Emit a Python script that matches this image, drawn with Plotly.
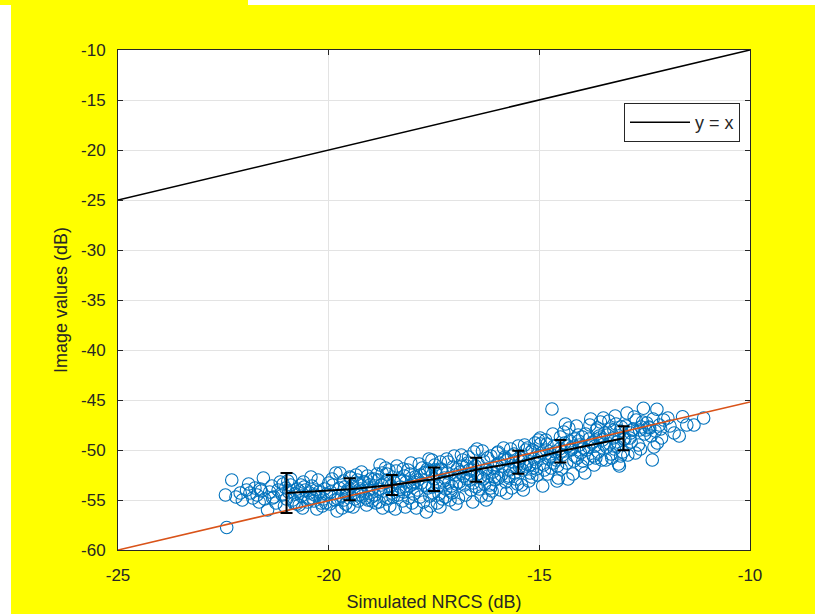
import plotly.graph_objects as go

# ---------------- data ----------------
scatter_x = [
    -22.45, -22.3, -22.2, -22.42, -22.1, -22.05,
    -21.95, -21.87, -21.8, -21.75, -21.7, -21.65, -21.6, -21.55, -21.52,
    -21.45, -21.4, -21.35, -21.3, -21.25, -21.2, -21.15, -21.1, -21.05, -21.02, -21.0,
    -20.95, -20.9, -20.85, -20.8, -20.75, -20.7, -20.65, -20.6, -20.55, -20.5, -20.9, -20.7, -20.62,
    -20.45, -20.4, -20.35, -20.3, -20.25, -20.2, -20.15, -20.1, -20.05, -20.0, -20.42, -20.28, -20.12, -20.38,
    -19.95, -19.9, -19.85, -19.8, -19.75, -19.7, -19.65, -19.6, -19.55, -19.5, -19.92, -19.78, -19.62, -19.52, -19.58, -19.68,
    -19.45, -19.4, -19.35, -19.3, -19.25, -19.2, -19.15, -19.1, -19.05, -19.0, -19.42, -19.32, -19.22, -19.12, -19.02, -19.28, -19.08, -19.38,
    -18.95, -18.9, -18.85, -18.8, -18.75, -18.7, -18.65, -18.6, -18.55, -18.5, -18.92, -18.82, -18.72, -18.62, -18.52, -18.58, -18.68, -18.78, -18.88, -18.98,
    -18.45, -18.4, -18.35, -18.3, -18.25, -18.2, -18.15, -18.1, -18.05, -18.0, -18.42, -18.32, -18.22, -18.12, -18.02, -18.48, -18.38, -18.28, -18.18, -18.08,
    -17.95, -17.9, -17.85, -17.8, -17.75, -17.7, -17.65, -17.6, -17.55, -17.5, -17.92, -17.82, -17.72, -17.62, -17.52, -17.58, -17.68, -17.78, -17.88, -17.98, -17.54,
    -17.45, -17.4, -17.35, -17.3, -17.25, -17.2, -17.15, -17.1, -17.05, -17.0, -17.42, -17.32, -17.22, -17.12, -17.02, -17.48, -17.38, -17.28, -17.18, -17.08, -17.36,
    -16.95, -16.9, -16.85, -16.8, -16.75, -16.7, -16.65, -16.6, -16.55, -16.5, -16.92, -16.82, -16.72, -16.62, -16.52, -16.58, -16.68, -16.78, -16.88, -16.98, -16.64,
    -16.45, -16.4, -16.35, -16.3, -16.25, -16.2, -16.15, -16.1, -16.05, -16.0, -16.42, -16.32, -16.22, -16.12, -16.02, -16.48, -16.38, -16.28, -16.18, -16.08, -16.26,
    -15.95, -15.9, -15.85, -15.8, -15.75, -15.7, -15.65, -15.6, -15.55, -15.5, -15.92, -15.82, -15.72, -15.62, -15.52, -15.58, -15.68, -15.78, -15.88, -15.98,
    -15.45, -15.4, -15.35, -15.3, -15.25, -15.2, -15.15, -15.1, -15.05, -15.0, -15.42, -15.32, -15.22, -15.12, -15.02, -15.48, -15.38, -15.28, -15.18, -15.08,
    -14.95, -14.9, -14.85, -14.8, -14.75, -14.7, -14.65, -14.6, -14.55, -14.5, -14.92, -14.82, -14.72, -14.62, -14.52, -14.58, -14.68, -14.78, -14.88, -14.98,
    -14.45, -14.4, -14.35, -14.3, -14.25, -14.2, -14.15, -14.1, -14.05, -14.0, -14.42, -14.32, -14.22, -14.12, -14.02, -14.48, -14.38, -14.28, -14.18, -14.08,
    -13.95, -13.9, -13.85, -13.8, -13.75, -13.7, -13.65, -13.6, -13.55, -13.5, -13.92, -13.82, -13.72, -13.62, -13.52, -13.58, -13.68, -13.78, -13.88, -13.98,
    -13.45, -13.4, -13.35, -13.3, -13.25, -13.2, -13.15, -13.1, -13.05, -13.0, -13.42, -13.32, -13.22, -13.12, -13.02, -13.48, -13.38, -13.28, -13.18, -13.08,
    -12.95, -12.85, -12.75, -12.65, -12.55, -12.9, -12.8, -12.7, -12.6, -12.5, -12.92, -12.72, -12.58, -12.82,
    -12.45, -12.32, -12.35, -12.3, -12.25, -12.2, -12.15, -12.1, -12.05, -12.53, -12.21, -12.28,
    -11.9, -11.6, -11.5, -11.33, -11.1, -11.8,
    # extra points filling the dense centre of the cloud
    -21.9, -21.62, -21.33, -21.08, -20.82, -20.58, -20.33, -20.07, -19.83, -19.57,
    -19.33, -19.07, -18.83, -18.57, -18.33, -18.07, -17.83, -17.57, -17.33, -17.07,
    -16.83, -16.57, -16.33, -16.07, -15.83, -15.57, -15.33, -15.07, -14.83, -14.57,
    -14.33, -14.07, -13.83, -13.57, -13.33, -13.07, -12.83, -12.62, -12.4, -12.12,
    -20.97, -20.47, -19.97, -19.47, -18.97, -18.47, -17.97, -17.47, -16.97, -16.47,
    -15.97, -15.47, -14.97, -14.47, -13.97, -13.47, -12.97, -12.47, -11.95, -11.68,
    -20.76, -20.23, -19.73, -19.23, -18.73, -18.23, -17.73, -17.23, -16.73, -16.23,
    -15.73, -15.23, -14.73, -14.23, -13.73, -13.23, -12.77, -12.38,
    -20.66, -20.18, -19.64, -19.18, -18.64, -18.16, -17.66, -17.16, -16.66, -16.16,
    -15.66, -15.16, -14.66, -14.16, -13.66, -13.16,
]
scatter_y = [
    -54.5, -53.0, -54.7, -57.75, -54.3, -55.0,
    -54.0, -54.3, -54.8, -53.8, -54.5, -55.2, -54.1, -52.8, -54.9,
    -56.0, -54.2, -53.6, -54.7, -55.3, -54.0, -53.2, -54.5, -55.6, -53.8, -54.9,
    -54.2, -53.5, -55.0, -54.4, -53.9, -55.5, -54.6, -53.2, -54.0, -55.2, -52.9, -54.1, -55.8,
    -54.3, -53.6, -55.1, -54.0, -53.0, -54.7, -55.6, -53.9, -54.4, -53.3, -52.7, -55.9, -54.9, -54.8,
    -54.2, -53.5, -55.0, -56.1, -53.8, -54.6, -53.1, -55.4, -54.0, -52.7, -52.9, -54.9, -53.7, -55.6, -54.4, -55.8,
    -53.6, -54.3, -52.5, -55.1, -53.9, -54.6, -53.2, -55.5, -54.0, -52.9, -55.7, -53.0, -52.2, -54.8, -53.5, -54.5, -52.6, -54.9,
    -53.8, -54.5, -52.4, -55.2, -53.5, -54.1, -51.8, -53.0, -55.6, -54.3, -52.9, -53.9, -55.8, -52.4, -53.6, -54.8, -53.3, -51.5, -55.3, -54.7,
    -53.2, -52.1, -54.5, -53.7, -55.1, -52.6, -53.9, -54.8, -51.3, -53.4, -55.9, -52.9, -54.2, -52.0, -55.3, -54.0, -51.6, -53.1, -55.7, -53.6,
    -52.7, -54.0, -51.4, -53.3, -55.2, -52.2, -53.8, -54.6, -51.0, -52.9, -55.8, -52.5, -53.5, -50.9, -54.3, -55.6, -56.2, -51.8, -53.0, -54.4, -53.7,
    -52.4, -53.6, -51.2, -54.9, -52.8, -50.9, -53.3, -54.1, -51.7, -52.5, -55.3, -52.0, -53.9, -55.0, -50.6, -51.5, -54.4, -53.1, -52.3, -53.6, -55.7,
    -51.9, -53.2, -50.5, -52.6, -54.5, -51.3, -53.0, -52.0, -50.2, -53.7, -54.8, -51.0, -52.9, -54.0, -51.6, -55.2, -50.7, -53.5, -52.2, -55.4, -52.4,
    -51.4, -52.7, -50.1, -53.4, -51.9, -54.5, -50.6, -52.2, -53.0, -50.3, -53.9, -51.1, -52.6, -54.1, -51.5, -49.9, -54.6, -52.0, -53.5, -51.8, -55.0,
    -51.3, -52.5, -49.8, -53.2, -51.0, -52.0, -53.8, -50.4, -51.7, -49.6, -54.0, -50.7, -52.8, -51.2, -53.4, -52.3, -49.9, -54.3, -51.6, -50.2,
    -50.8, -52.0, -49.5, -51.4, -53.1, -50.2, -51.8, -49.3, -52.5, -50.6, -53.5, -50.0, -52.3, -50.9, -49.0, -51.1, -54.0, -49.8, -52.7, -51.2,
    -50.3, -51.5, -49.0, -52.4, -50.7, -45.9, -49.6, -51.0, -52.8, -48.7, -53.6, -49.4, -51.8, -50.2, -49.9, -53.1, -48.4, -50.9, -52.0, -48.8,
    -50.5, -49.3, -51.3, -47.8, -50.0, -52.4, -48.9, -50.8, -49.5, -51.6, -48.2, -52.9, -49.7, -47.6, -50.3, -51.9, -47.4, -49.1, -51.1, -48.5,
    -49.8, -48.4, -50.9, -47.5, -49.3, -51.5, -48.0, -50.2, -47.2, -49.0, -52.3, -48.9, -50.6, -47.8, -51.0, -48.6, -49.6, -46.9, -50.0, -48.7,
    -48.3, -49.7, -47.1, -50.4, -48.8, -46.6, -49.2, -51.6, -47.7, -48.9, -51.0, -47.9, -49.9, -51.4, -50.2, -46.8, -48.5, -50.8, -47.4, -48.1,
    -47.6, -48.8, -46.7, -49.5, -47.2, -50.5, -48.0, -47.0, -49.9, -48.4, -46.3, -50.3, -47.7, -49.2,
    -47.3, -51.0, -48.6, -46.9, -48.1, -49.3, -47.5, -48.8, -47.0, -45.83, -45.93, -49.7,
    -47.6, -46.67, -47.5, -47.5, -46.8, -48.3,
    # extra points
    -53.4, -53.9, -54.8, -53.4, -55.3, -53.7, -54.5, -55.3, -52.3, -54.2,
    -53.3, -55.0, -53.0, -52.0, -54.0, -52.4, -54.7, -52.1, -51.9, -54.3,
    -51.6, -53.3, -52.9, -52.7, -50.9, -52.9, -51.6, -51.9, -50.0, -51.6,
    -49.6, -49.1, -49.7, -48.8, -49.4, -50.6, -48.3, -48.0, -47.7, -47.9,
    -53.1, -54.9, -55.4, -52.8, -55.1, -54.7, -53.2, -52.0, -53.4, -52.4,
    -52.8, -51.7, -49.4, -50.1, -51.1, -49.4, -48.9, -48.0, -46.8, -48.6,
    -55.4, -54.2, -52.3, -54.1, -52.3, -51.9, -52.3, -54.7, -51.6, -50.8,
    -52.6, -51.5, -50.4, -49.9, -49.2, -48.0, -47.9, -47.8,
    -53.5, -55.3, -55.0, -53.2, -54.9, -53.2, -51.9, -51.2, -52.0, -53.8,
    -50.6, -50.0, -51.3, -50.6, -50.8, -49.6,
]

bin_x = [-21.0, -19.5, -18.5, -17.5, -16.5, -15.5, -14.5, -13.0]
bin_mean = [-54.3, -53.93, -53.5, -52.93, -51.97, -51.22, -50.12, -48.83]
bin_std = [2.0, 1.1, 1.0, 1.17, 1.2, 1.15, 1.12, 1.2]

fit_x = [-25, -10]
fit_y = [-60.0, -45.2]
ident_x = [-25, -10]
ident_y = [-25, -10]

x_ticks = [-25, -20, -15, -10]
y_ticks = [-60, -55, -50, -45, -40, -35, -30, -25, -20, -15, -10]

# ---------------- figure ----------------
BLUE = "#0072BD"
ORANGE = "#D95319"
TXT = "#262626"
FONT = "Liberation Sans, Arial"

fig = go.Figure()

fig.add_trace(go.Scatter(
    x=scatter_x, y=scatter_y, mode="markers", showlegend=False,
    marker=dict(symbol="circle-open", size=12.5, color=BLUE, line=dict(width=1.1, color=BLUE)),
))
fig.add_trace(go.Scatter(
    x=fit_x, y=fit_y, mode="lines", showlegend=False,
    line=dict(color=ORANGE, width=1.6),
))
fig.add_trace(go.Scatter(
    x=bin_x, y=bin_mean, mode="lines", showlegend=False,
    line=dict(color="black", width=2),
    error_y=dict(type="data", array=bin_std, color="black", thickness=2, width=6),
))
fig.add_trace(go.Scatter(
    x=ident_x, y=ident_y, mode="lines", name="y = x",
    line=dict(color="black", width=1.6),
))

axis_common = dict(
    showgrid=True, gridcolor="#e3e3e3", gridwidth=1,
    showline=True, linecolor=TXT, linewidth=1, mirror="ticks",
    ticks="inside", ticklen=5, tickcolor=TXT, tickwidth=1,
    zeroline=False, automargin=False,
    tickfont=dict(family=FONT, size=17, color=TXT),
)

fig.update_xaxes(
    range=[-25, -10], tickvals=x_ticks, ticktext=[str(v) for v in x_ticks],
    ticklabelstandoff=10,
    title=dict(text="Simulated NRCS (dB)", font=dict(family=FONT, size=18, color=TXT), standoff=10),
    **axis_common,
)
fig.update_yaxes(
    range=[-60, -10], tickvals=y_ticks, ticktext=[str(v) for v in y_ticks],
    ticklabelstandoff=8,
    title=dict(text="Image values (dB)", font=dict(family=FONT, size=18, color=TXT), standoff=8),
    **axis_common,
)

W, H = 815, 614
L, R, T, B = 118, 65, 50, 64
pw, ph = W - L - R, H - T - B

def px_x(p):
    return (p - L) / pw

def px_y(p):
    return (H - B - p) / ph

fig.update_layout(
    width=W, height=H,
    margin=dict(l=L, r=R, t=T, b=B),
    paper_bgcolor="#FFFF00",
    plot_bgcolor="white",
    font=dict(family=FONT, color=TXT),
    legend=dict(
        x=px_x(740), y=px_y(103), xanchor="right", yanchor="top",
        bgcolor="white", bordercolor=TXT, borderwidth=1,
        font=dict(family=FONT, size=18, color=TXT),
        itemwidth=60, tracegroupgap=0,
    ),
    shapes=[
        dict(type="rect", xref="paper", yref="paper", layer="above",
             x0=px_x(-20), x1=px_x(11), y0=px_y(640), y1=px_y(5),
             fillcolor="white", line=dict(width=0)),
        dict(type="rect", xref="paper", yref="paper", layer="above",
             x0=px_x(248), x1=px_x(840), y0=px_y(5), y1=px_y(-20),
             fillcolor="white", line=dict(width=0)),
    ],
)

fig.write_html("out.html")
